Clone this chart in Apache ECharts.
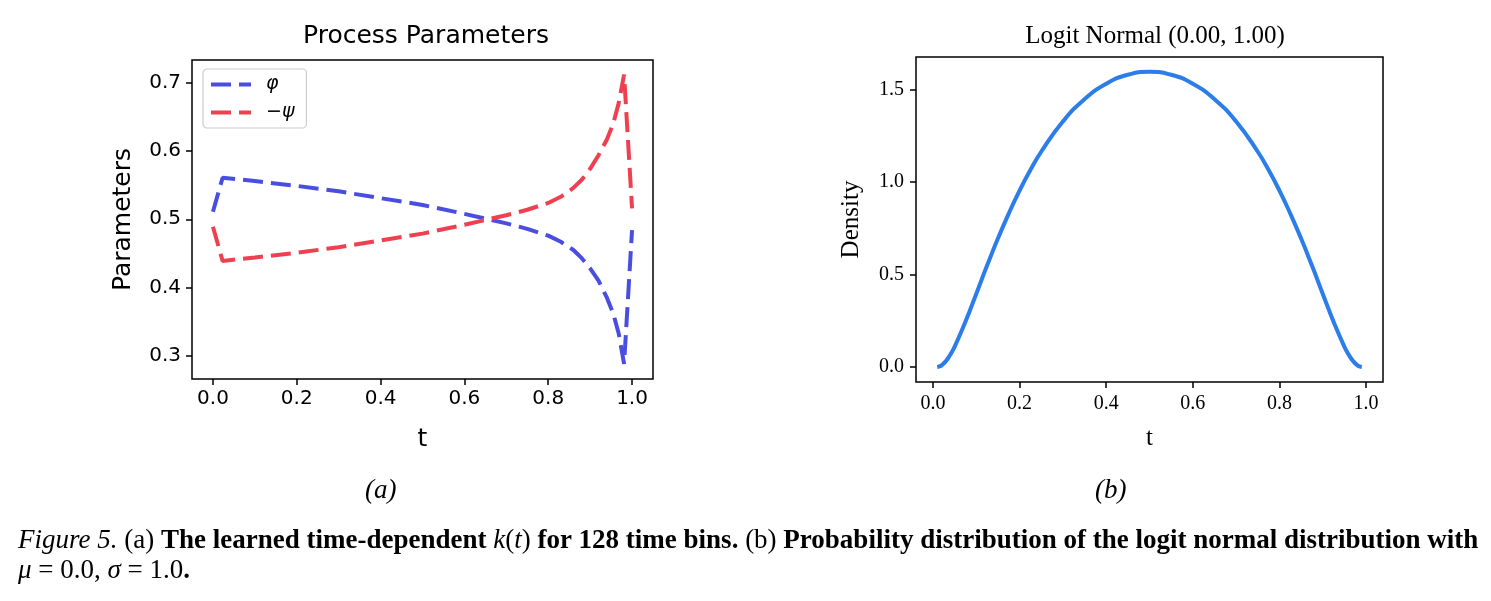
<!DOCTYPE html>
<html>
<head>
<meta charset="utf-8">
<script src="https://cdn.jsdelivr.net/npm/echarts@6/dist/echarts.min.js"></script>
<style>
  html, body { margin: 0; padding: 0; background: #fff; }
  #main { width: 1491px; height: 601px; }
</style>
</head>
<body>
<div id="main"></div>
<script>
// (a) learned process parameters over t
const paramT = [0, 0.023, 0.1, 0.2, 0.3, 0.4, 0.5, 0.6, 0.65, 0.7, 0.75, 0.8, 0.83, 0.86, 0.88, 0.9, 0.92, 0.94, 0.955, 0.968, 0.981, 1.0];
const phiVals = [0.511, 0.561, 0.556, 0.549, 0.541, 0.531, 0.521, 0.508, 0.501, 0.494, 0.486, 0.476, 0.467, 0.455, 0.443, 0.428, 0.41, 0.385, 0.362, 0.333, 0.288, 0.484];
const negPsiVals = [0.489, 0.439, 0.444, 0.451, 0.459, 0.469, 0.479, 0.492, 0.499, 0.506, 0.514, 0.524, 0.533, 0.546, 0.558, 0.574, 0.594, 0.617, 0.640, 0.670, 0.712, 0.516];

// (b) logit normal density
const densityT = [0.01, 0.015, 0.02, 0.03, 0.04, 0.05, 0.075, 0.1, 0.125, 0.15, 0.175, 0.2, 0.225, 0.25, 0.3, 0.35, 0.4, 0.45, 0.5, 0.55, 0.6, 0.65, 0.7, 0.75, 0.775, 0.8, 0.825, 0.85, 0.875, 0.9, 0.925, 0.95, 0.96, 0.97, 0.98, 0.985, 0.99];
const densityVals = [0.001, 0.004, 0.010, 0.033, 0.067, 0.110, 0.245, 0.396, 0.549, 0.695, 0.830, 0.954, 1.065, 1.164, 1.327, 1.448, 1.531, 1.580, 1.596, 1.580, 1.531, 1.448, 1.327, 1.164, 1.065, 0.954, 0.830, 0.695, 0.549, 0.396, 0.245, 0.110, 0.067, 0.033, 0.010, 0.004, 0.001];

// tick labels
const leftXTicks = [0, 0.2, 0.4, 0.6, 0.8, 1.0];
const leftYTicks = [0.3, 0.4, 0.5, 0.6, 0.7];
const rightXTicks = [0, 0.2, 0.4, 0.6, 0.8, 1.0];
const rightYTicks = [0, 0.5, 1.0, 1.5];

const SANS = "'DejaVu Sans', sans-serif";
const SERIF = "'Liberation Serif', 'Times New Roman', serif";
// two dashes, same look as the plotted lines
const DASH_ICON = "path://M0,0H20V4H0ZM28,0H40V4H28Z";

function zip(xs, ys) {
  return xs.map(function (x, i) { return [x, ys[i]]; });
}

function valueAxis(grid, min, max, ticks, font, size, name, nameGap, labelMargin) {
  return {
    type: "value",
    gridIndex: grid,
    min: min,
    max: max,
    name: name,
    nameLocation: "middle",
    nameGap: nameGap,
    nameTextStyle: { fontFamily: font, fontSize: 25, color: "#000" },
    axisLine: { show: false, onZero: false },
    splitLine: { show: false },
    axisTick: {
      show: true,
      length: 6,
      customValues: ticks,
      lineStyle: { color: "#000", width: 1.5 },
    },
    axisLabel: {
      customValues: ticks,
      margin: labelMargin,
      fontFamily: font,
      fontSize: size,
      color: "#000",
      formatter: function (v) { return v.toFixed(1); },
    },
  };
}

var myChart = echarts.init(document.getElementById("main"), null, { renderer: "canvas" });
var option = {
  animation: false,
  backgroundColor: "#fff",
  title: [
    {
      text: "Process Parameters",
      left: 421,
      top: 19,
      textAlign: "center",
      textStyle: { fontFamily: SANS, fontSize: 25, fontWeight: "normal", color: "#000" },
    },
    {
      text: "Logit Normal (0.00, 1.00)",
      left: 1150,
      top: 19,
      textAlign: "center",
      textStyle: { fontFamily: SERIF, fontSize: 25, fontWeight: "normal", color: "#000" },
    },
  ],
  legend: {
    data: [
      { name: "φ", icon: DASH_ICON },
      { name: "−ψ", icon: DASH_ICON },
    ],
    orient: "vertical",
    left: 203,
    top: 69,
    padding: [5, 12, 5, 8],
    itemGap: 7,
    itemWidth: 40,
    itemHeight: 4,
    backgroundColor: "#fff",
    borderColor: "#cccccc",
    borderWidth: 1.2,
    borderRadius: 4,
    textStyle: {
      fontFamily: SANS,
      fontSize: 19,
      fontStyle: "italic",
      color: "#000",
      padding: [0, 0, 0, 10],
      lineHeight: 21,
    },
  },
  grid: [
    { left: 192, top: 60, width: 461, height: 319, show: true, borderColor: "#000", borderWidth: 1.5, backgroundColor: "transparent" },
    { left: 916, top: 57, width: 467, height: 325, show: true, borderColor: "#000", borderWidth: 1.5, backgroundColor: "transparent" },
  ],
  xAxis: [
    valueAxis(0, -0.05, 1.05, leftXTicks, SANS, 20, "t", 48, 10),
    valueAxis(1, -0.039, 1.039, rightXTicks, SERIF, 20, "t", 44, 12),
  ],
  yAxis: [
    valueAxis(0, 0.2658, 0.7336, leftYTicks, SANS, 20, "Parameters", 56, 11),
    valueAxis(1, -0.0798, 1.6758, rightYTicks, SERIF, 20, "Density", 52, 12),
  ],
  series: [
    {
      name: "φ",
      type: "line",
      xAxisIndex: 0,
      yAxisIndex: 0,
      symbol: "none",
      data: zip(paramT, phiVals),
      itemStyle: { color: "#4a4ee0" },
      lineStyle: { color: "#4a4ee0", width: 4, type: [20, 8] },
    },
    {
      name: "−ψ",
      type: "line",
      xAxisIndex: 0,
      yAxisIndex: 0,
      symbol: "none",
      data: zip(paramT, negPsiVals),
      itemStyle: { color: "#ee4050" },
      lineStyle: { color: "#ee4050", width: 4, type: [20, 8] },
    },
    {
      name: "density",
      type: "line",
      xAxisIndex: 1,
      yAxisIndex: 1,
      symbol: "none",
      smooth: true,
      data: zip(densityT, densityVals),
      lineStyle: { color: "#2b7de9", width: 4 },
    },
  ],
  graphic: [
    {
      type: "text",
      left: 365,
      top: 477,
      style: { text: "(a)", fontFamily: SERIF, fontSize: 27, fontStyle: "italic", fill: "#000" },
    },
    {
      type: "text",
      left: 1095,
      top: 477,
      style: { text: "(b)", fontFamily: SERIF, fontSize: 27, fontStyle: "italic", fill: "#000" },
    },
    {
      type: "text",
      left: 18,
      top: 526,
      style: {
        text:
          "{i|Figure 5.} (a) {b|The learned time-dependent} {i|k}({i|t}) {b|for 128 time bins.} (b) {b|Probability distribution of the logit normal distribution with}\n" +
          "{i|μ} = 0.0, {i|σ} = 1.0{b|.}",
        fontFamily: SERIF,
        fontSize: 27,
        lineHeight: 30,
        fill: "#000",
        rich: {
          i: { fontFamily: SERIF, fontSize: 27, fontStyle: "italic", lineHeight: 30 },
          b: { fontFamily: SERIF, fontSize: 27, fontWeight: "bold", lineHeight: 30 },
        },
      },
    },
  ],
};

myChart.setOption(option);
</script>
</body>
</html>
